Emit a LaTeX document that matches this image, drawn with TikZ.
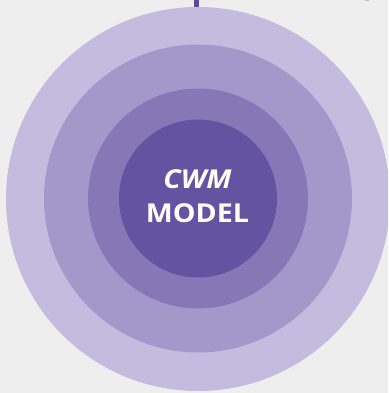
\documentclass[tikz,border=0pt]{standalone}
\usepackage{fontspec}
\setmainfont{Open Sans}
\definecolor{bgc}{HTML}{EEEEEE}
\definecolor{ringA}{HTML}{C3BCDE}
\definecolor{ringB}{HTML}{A498CA}
\definecolor{ringC}{HTML}{8777B7}
\definecolor{ringD}{HTML}{6353A0}
\definecolor{stem}{HTML}{5B4A9E}
\tikzset{
  ring/.style={fill=#1, draw=none},
  label/.style={text=white, font=\bfseries\fontsize{26}{30}\selectfont, inner sep=0pt, xscale=1.1}
}
\begin{document}
\begin{tikzpicture}[x=1pt, y=-1pt]
  \fill[bgc] (0,0) rectangle (388,393);
  \useasboundingbox (0,0) rectangle (388,393);
  \clip (0,0) rectangle (388,393);
  % stem entering from above
  \fill[stem] (194.3,-1) rectangle (199.3,7);
  % partly visible letter at the top edge
  \node[anchor=base, inner sep=0pt, font=\fontsize{22}{26}\selectfont, text=black!85] (g) at (368,-4) {g};
  % concentric rings
  \fill[ring=ringA] (198,199) circle[radius=192];
  \fill[ring=ringB] (198,198.5) circle[radius=154];
  \fill[ring=ringC] (198,198.5) circle[radius=110];
  \fill[ring=ringD] (198,198.5) circle[radius=79];
  \node[label, font=\bfseries\itshape\fontsize{26}{30}\selectfont] (cwm) at (197.5,179) {CWM};
  \node[label] (model) at (197.5,213) {MODEL};
\end{tikzpicture}
\end{document}
